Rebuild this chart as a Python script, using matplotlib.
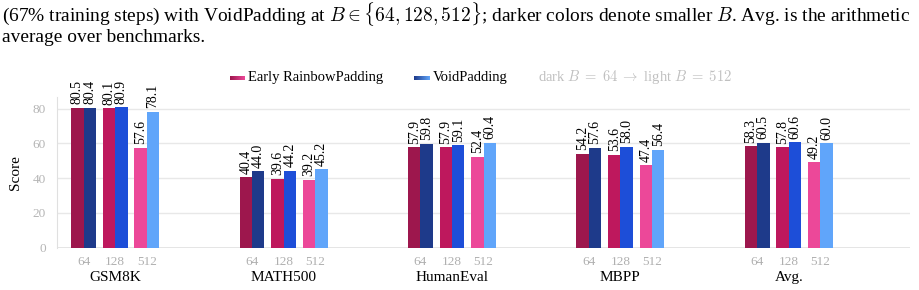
import numpy as np
import matplotlib
matplotlib.use("Agg")
import matplotlib.pyplot as plt
from matplotlib.colors import LinearSegmentedColormap

plt.rcParams['font.family'] = ['Liberation Serif', 'DejaVu Serif']
plt.rcParams['mathtext.fontset'] = 'cm'

benchmarks = ["GSM8K", "MATH500", "HumanEval", "MBPP", "Avg."]
block_sizes = ["64", "128", "512"]
rainbow = {
    "64":  [80.5, 40.4, 57.9, 54.2, 58.3],
    "128": [80.1, 39.6, 57.9, 53.6, 57.8],
    "512": [57.6, 39.2, 52.4, 47.4, 49.2],
}
void = {
    "64":  [80.4, 44.0, 59.8, 57.6, 60.5],
    "128": [80.9, 44.2, 59.1, 58.0, 60.6],
    "512": [78.1, 45.2, 60.4, 56.4, 60.0],
}
rainbow_colors = ["#9d174d", "#be185d", "#ec4899"]
void_colors = ["#1e3a8a", "#1d4ed8", "#60a5fa"]

caption1 = r"(67% training steps) with VoidPadding at $B \in \{64, 128, 512\}$; darker colors denote smaller $B$. Avg. is the arithmetic"
caption2 = "average over benchmarks."

fig = plt.figure(figsize=(9.2, 2.9), dpi=100)
ax = fig.add_axes([57/920, 1-247.7/290, (910-57)/920, (247.7-96.5)/290])

pair_off = 0.1877
bw = 0.0737
xs = np.arange(len(benchmarks))
for j, b in enumerate(block_sizes):
    cx = xs + (j - 1) * pair_off
    r = ax.bar(cx - bw/2, rainbow[b], width=bw, color=rainbow_colors[j], zorder=3)
    v = ax.bar(cx + bw/2, void[b], width=bw, color=void_colors[j], zorder=3)
    for bars, vals in ((r, rainbow[b]), (v, void[b])):
        for bar, val in zip(bars, vals):
            ax.annotate(f"{val:.1f}", (bar.get_x() + bar.get_width()/2, val),
                        xytext=(0, 2.5), textcoords="offset points",
                        rotation=90, ha="center", va="bottom", fontsize=10,
                        color="black", annotation_clip=False)

ax.set_xlim(-0.346, 4.72)
ax.set_ylim(0, 87)
ax.set_yticks([0, 20, 40, 60, 80])
ax.tick_params(axis='y', length=0, labelsize=9.5, labelcolor="#b5b5b5", pad=8)
ax.set_xticks([])
ax.yaxis.grid(True, color="#e8e8e8", linewidth=1, zorder=0)
for s in ["top", "right", "bottom"]:
    ax.spines[s].set_visible(False)
ax.spines["left"].set_color("#e0e0e0")
ax.axhline(0, color="#e0e0e0", linewidth=1.2, zorder=1)
ax.set_ylabel("Score", fontsize=11, labelpad=8)

for i, name in enumerate(benchmarks):
    for j, b in enumerate(block_sizes):
        ax.text(i + (j - 1) * pair_off, -5.0, b, ha="center", va="top",
                fontsize=9.5, color="#b0b0b0", transform=ax.transData, clip_on=False)
    ax.text(i, -13.5, name, ha="center", va="top", fontsize=11, color="black",
            transform=ax.transData, clip_on=False)

# caption, sized to span the reference width
t1 = fig.text(2/920, 1-14/290, caption1, ha="left", va="center", fontsize=14)
t2 = fig.text(2/920, 1-38/290, caption2, ha="left", va="center", fontsize=14)
renderer = fig.canvas.get_renderer()
w = t1.get_window_extent(renderer).width
fs = 14 * 912 / w
t1.set_fontsize(fs)
t2.set_fontsize(fs)

# legend
def swatch(x0, x1, cols):
    sax = fig.add_axes([x0/920, 1-80/290, (x1-x0)/920, 4/290])
    cmap = LinearSegmentedColormap.from_list("g", cols)
    sax.imshow(np.linspace(0, 1, 64)[None, :], aspect="auto", cmap=cmap)
    sax.axis("off")

swatch(230, 245, [rainbow_colors[0], rainbow_colors[2]])
fig.text(248/920, 1-77/290, "Early RainbowPadding", ha="left", va="center", fontsize=10.5)
swatch(414, 430, [void_colors[0], void_colors[2]])
fig.text(433/920, 1-77/290, "VoidPadding", ha="left", va="center", fontsize=10.5)
fig.text(538/920, 1-77/290, r"dark $B\;=\;64\;\rightarrow\;$light $B\;=\;512$", ha="left",
         va="center", fontsize=10.5, color="#c0c0c0")

fig.savefig("out.png", dpi=100)
